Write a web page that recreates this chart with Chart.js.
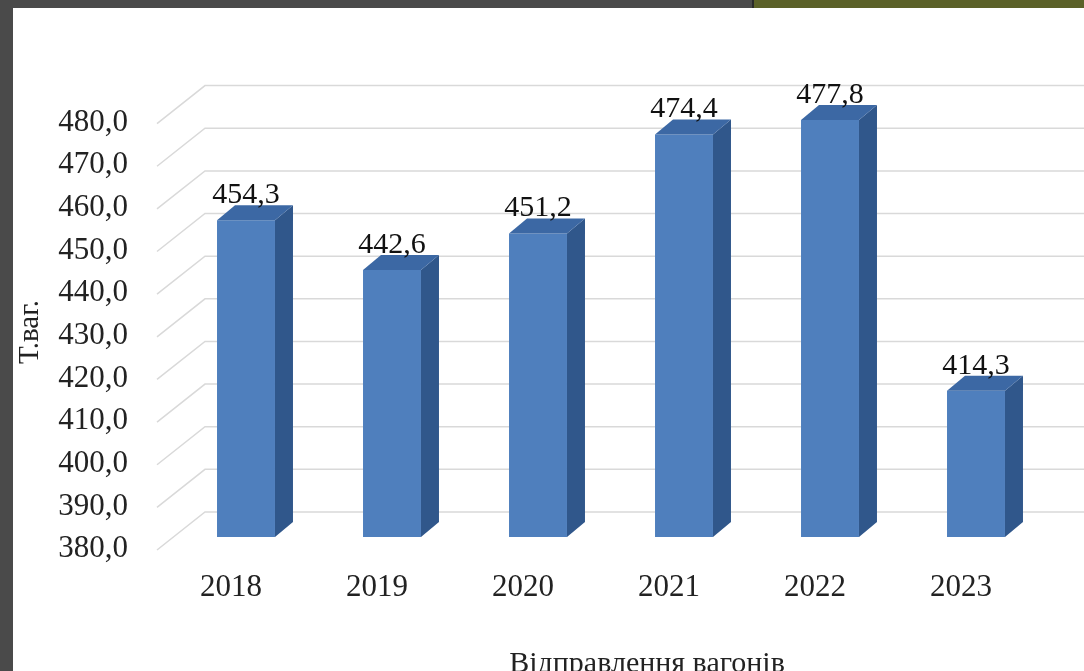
<!DOCTYPE html>
<html>
<head>
<meta charset="utf-8">
<script src="https://cdn.jsdelivr.net/npm/chart.js@4"></script>
<style>
  body { margin: 0; background: #fff; }
  #wrap { position: relative; width: 1084px; height: 671px; overflow: hidden; }
  .frame { position: absolute; }
</style>
</head>
<body>
<div id="wrap">
  <canvas id="myChart" width="1084" height="671"></canvas>
  <div class="frame" style="left:0;top:0;width:1084px;height:8px;background:#4a4a4a"></div>
  <div class="frame" style="left:752px;top:0;width:332px;height:8px;background:#5b6128;border-left:2px solid #2a2a2a"></div>
  <div class="frame" style="left:0;top:0;width:13px;height:671px;background:#4a4a4a"></div>
</div>
<script>
  // data
  const categories = ['2018', '2019', '2020', '2021', '2022', '2023'];
  const values = [454.3, 442.6, 451.2, 474.4, 477.8, 414.3];
  const yMin = 380;
  const yMax = 480;
  const yStep = 10;
  const yTitle = 'Т.ваг.';
  const xTitle = 'Відправлення вагонів';

  const serif = "'Liberation Serif', 'Times New Roman', serif";
  const fmt = v => v.toFixed(1).replace('.', ',');

  // 3d look: depth offset of the bars
  const depth = { dx: 18, dy: -15 };

  const threeD = {
    id: 'threeD',
    beforeDatasetsDraw(chart) {
      // perspective gridlines: front edge -> back wall -> right
      const ctx = chart.ctx;
      const y = chart.scales.y;
      ctx.save();
      ctx.strokeStyle = '#d9d9d9';
      ctx.lineWidth = 1.5;
      y.ticks.forEach(t => {
        const py = y.getPixelForValue(t.value);
        ctx.beginPath();
        ctx.moveTo(157, py + 13);
        ctx.lineTo(205, py - 25);
        ctx.lineTo(chart.width, py - 25);
        ctx.stroke();
      });
      ctx.restore();
    },
    afterDatasetsDraw(chart) {
      const ctx = chart.ctx;
      const meta = chart.getDatasetMeta(0);
      const bottom = chart.chartArea.bottom;
      ctx.save();
      meta.data.forEach((bar, i) => {
        const p = bar.getProps(['x', 'y', 'base', 'width'], true);
        const base = Math.min(p.base, bottom);
        const l = p.x - p.width / 2;
        const r = p.x + p.width / 2;
        // side face
        ctx.fillStyle = '#30578b';
        ctx.beginPath();
        ctx.moveTo(r, p.y);
        ctx.lineTo(r + depth.dx, p.y + depth.dy);
        ctx.lineTo(r + depth.dx, base + depth.dy);
        ctx.lineTo(r, base);
        ctx.closePath();
        ctx.fill();
        // top face
        ctx.fillStyle = '#3c68a4';
        ctx.beginPath();
        ctx.moveTo(l, p.y);
        ctx.lineTo(l + depth.dx, p.y + depth.dy);
        ctx.lineTo(r + depth.dx, p.y + depth.dy);
        ctx.lineTo(r, p.y);
        ctx.closePath();
        ctx.fill();
        // value label
        ctx.fillStyle = '#111';
        ctx.font = '30px ' + serif;
        ctx.textAlign = 'center';
        ctx.textBaseline = 'middle';
        ctx.fillText(fmt(values[i]), p.x, p.y - 25);
      });
      ctx.restore();
    },
    afterDraw(chart) {
      const ctx = chart.ctx;
      ctx.save();
      ctx.fillStyle = '#222';
      ctx.font = '29px ' + serif;
      ctx.textAlign = 'center';
      ctx.textBaseline = 'middle';
      ctx.translate(30, 332);
      ctx.rotate(-Math.PI / 2);
      ctx.fillText(yTitle, 0, 0);
      ctx.restore();

      ctx.save();
      ctx.fillStyle = '#222';
      ctx.font = '30px ' + serif;
      ctx.textAlign = 'center';
      ctx.textBaseline = 'alphabetic';
      ctx.fillText(xTitle, 647, 672);
      ctx.restore();
    }
  };

  const ctx = document.getElementById('myChart').getContext('2d');

  const myChart = new Chart(ctx, {
    type: 'bar',
    data: {
      labels: categories,
      datasets: [{
        data: values,
        backgroundColor: '#4f7fbd',
        borderWidth: 0,
        categoryPercentage: 1,
        barPercentage: 0.397
      }]
    },
    options: {
      responsive: false,
      animation: false,
      layout: {
        padding: { top: 110.6, right: 35, left: 0, bottom: 0 }
      },
      plugins: {
        legend: { display: false },
        tooltip: { enabled: false }
      },
      scales: {
        x: {
          grid: { display: false, drawTicks: false },
          border: { display: false },
          ticks: {
            color: '#222',
            font: { family: serif, size: 31 },
            padding: 32,
            labelOffset: -15
          },
          afterFit(scale) { scale.height = 134; }
        },
        y: {
          min: yMin,
          max: yMax,
          grid: { display: false, drawTicks: false },
          border: { display: false },
          ticks: {
            stepSize: yStep,
            color: '#222',
            font: { family: serif, size: 31 },
            padding: 45,
            labelOffset: 12,
            callback: v => fmt(v)
          },
          afterFit(scale) { scale.width = 173; }
        }
      }
    },
    plugins: [threeD]
  });
</script>
</body>
</html>
